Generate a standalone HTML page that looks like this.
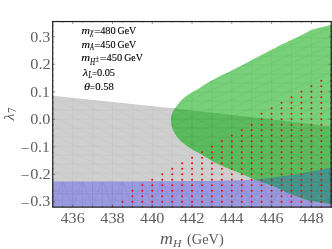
<!DOCTYPE html>
<html><head><meta charset="utf-8"><style>
html,body{margin:0;padding:0;background:#fff;}
svg{display:block;will-change:transform;font-family:"Liberation Serif",serif;}
.tl text{fill:#606060;}
.ann text{font-size:10.2px;fill:#000;stroke:#000;stroke-width:0.1px;}
.ax text{fill:#595959;}
</style></head><body>
<svg width="332" height="249" viewBox="0 0 332 249">
<defs><clipPath id="gc"><path d="M332.0,24.5 L331.2,24.7 L311.2,30.0 L310.2,30.5 L309.3,31.0 L308.4,31.5 L307.5,32.0 L306.6,32.6 L305.5,33.1 L304.2,33.8 L302.8,34.5 L301.1,35.3 L299.3,36.2 L297.2,37.2 L295.1,38.2 L292.9,39.2 L290.6,40.3 L288.4,41.3 L286.2,42.4 L284.0,43.5 L281.7,44.6 L279.3,45.8 L277.0,47.0 L274.6,48.2 L272.4,49.3 L270.2,50.4 L268.1,51.5 L266.2,52.5 L264.5,53.4 L262.8,54.2 L261.2,55.0 L259.6,55.9 L257.9,56.7 L256.2,57.7 L254.2,58.7 L252.0,59.8 L249.7,61.1 L247.2,62.4 L244.7,63.7 L242.2,65.1 L239.7,66.4 L237.3,67.6 L235.0,68.8 L232.8,69.9 L230.7,70.9 L228.6,71.9 L226.6,72.9 L224.6,73.9 L222.7,74.8 L220.9,75.7 L219.1,76.6 L217.4,77.5 L215.7,78.4 L214.1,79.2 L212.6,80.0 L211.1,80.8 L209.7,81.6 L208.3,82.4 L207.0,83.2 L205.7,84.0 L204.4,84.8 L203.1,85.6 L201.9,86.4 L200.8,87.2 L199.8,87.9 L198.8,88.5 L198.0,89.0 L197.3,89.4 L196.9,89.7 L196.5,89.9 L196.2,90.0 L195.9,90.2 L195.7,90.3 L195.3,90.5 L194.9,90.7 L194.4,91.0 L193.8,91.3 L193.2,91.6 L192.6,91.9 L192.0,92.3 L191.3,92.7 L190.7,93.0 L190.1,93.4 L189.5,93.8 L188.9,94.2 L188.3,94.6 L187.7,95.0 L187.1,95.4 L186.5,95.9 L185.9,96.3 L185.3,96.8 L184.7,97.3 L184.1,97.8 L183.5,98.3 L182.9,98.8 L182.3,99.3 L181.7,99.9 L181.1,100.5 L180.5,101.1 L179.9,101.8 L179.2,102.6 L178.6,103.4 L177.9,104.3 L177.3,105.1 L176.7,105.9 L176.1,106.7 L175.6,107.4 L175.2,108.0 L174.8,108.6 L174.5,109.1 L174.2,109.6 L173.9,110.0 L173.7,110.5 L173.4,110.9 L173.2,111.4 L173.0,111.9 L172.7,112.4 L172.5,112.9 L172.3,113.4 L172.2,113.8 L172.0,114.3 L171.8,114.8 L171.7,115.3 L171.6,115.8 L171.4,116.3 L171.3,116.8 L171.2,117.3 L171.2,117.7 L171.1,118.2 L171.0,118.7 L171.0,119.2 L171.0,119.7 L171.0,120.2 L171.0,120.6 L171.1,121.1 L171.1,121.6 L171.2,122.1 L171.2,122.5 L171.3,123.0 L171.3,123.4 L171.4,123.8 L171.4,124.2 L171.4,124.5 L171.5,124.9 L171.6,125.4 L171.7,125.9 L171.9,126.5 L172.2,127.2 L172.4,128.0 L172.8,128.9 L173.1,129.9 L173.6,130.9 L174.0,131.8 L174.5,132.8 L175.0,133.7 L175.6,134.6 L176.2,135.5 L176.8,136.4 L177.5,137.2 L178.2,138.1 L178.9,139.0 L179.7,139.8 L180.5,140.6 L181.3,141.4 L182.2,142.2 L183.1,142.9 L184.0,143.6 L184.9,144.4 L185.9,145.1 L186.8,145.7 L187.7,146.4 L188.6,147.0 L189.5,147.7 L190.5,148.3 L191.4,148.8 L192.4,149.4 L193.2,149.9 L194.1,150.4 L194.9,150.9 L195.5,151.3 L196.0,151.5 L196.4,151.7 L196.8,151.9 L197.2,152.1 L197.9,152.4 L198.8,152.9 L200.0,153.6 L201.6,154.6 L203.6,155.7 L205.8,157.1 L208.2,158.5 L210.7,160.0 L213.3,161.4 L215.7,162.8 L218.1,164.0 L220.4,165.1 L222.6,166.1 L224.9,167.0 L227.2,168.0 L229.4,168.9 L231.7,169.8 L233.9,170.7 L236.2,171.6 L238.5,172.6 L240.7,173.6 L243.0,174.6 L245.2,175.6 L247.5,176.6 L249.7,177.6 L252.0,178.5 L254.2,179.4 L256.4,180.2 L258.7,181.0 L260.9,181.8 L263.1,182.5 L265.3,183.3 L267.5,184.0 L269.8,184.8 L272.0,185.7 L274.2,186.6 L276.5,187.6 L278.8,188.7 L281.0,189.7 L283.3,190.8 L285.6,191.9 L287.8,192.9 L290.1,193.8 L292.4,194.7 L294.6,195.6 L296.9,196.5 L299.2,197.3 L301.4,198.1 L303.7,198.9 L305.9,199.6 L308.2,200.2 L310.5,200.8 L313.0,201.3 L315.5,201.7 L318.0,202.1 L320.3,202.5 L322.6,202.8 L324.5,203.1 L326.2,203.4 L327.5,203.6 L328.5,203.8 L329.3,203.9 L329.9,204.0 L330.4,204.1 L330.8,204.1 L331.4,204.2 L332.0,204.3 Z"/></clipPath>
<clipPath id="grc"><path d="M52.7,95.8 L62.3,96.7 L71.9,97.7 L81.5,98.7 L91.1,99.7 L100.7,100.7 L110.3,101.7 L119.9,102.7 L129.5,103.7 L139.1,104.7 L148.8,105.7 L158.4,106.8 L168.0,107.8 L177.6,108.8 L187.2,109.9 L196.8,111.0 L206.4,112.0 L216.0,113.1 L225.6,114.2 L235.2,115.3 L244.8,116.4 L254.4,117.5 L264.0,118.6 L273.6,119.7 L283.2,120.8 L292.8,122.0 L302.4,123.1 L312.0,124.3 L321.6,125.4 L331.2,126.6 L331.2,207.15 L52.7,207.15 Z"/></clipPath>
<clipPath id="bc"><path d="M52.7,181.6 L57.4,181.6 L62.1,181.6 L66.9,181.6 L71.6,181.6 L76.3,181.6 L81.0,181.6 L85.7,181.6 L90.5,181.5 L95.2,181.5 L99.9,181.5 L104.6,181.5 L109.4,181.5 L114.1,181.5 L118.8,181.5 L123.5,181.5 L128.2,181.5 L133.0,181.4 L137.7,181.4 L142.4,181.4 L147.1,181.3 L151.8,181.3 L156.6,181.3 L161.3,181.3 L166.0,181.2 L170.7,181.2 L175.5,181.2 L180.2,181.2 L184.9,181.1 L189.6,181.1 L194.3,181.1 L199.1,181.1 L203.8,181.0 L208.5,181.0 L213.2,180.9 L217.9,180.8 L222.7,180.6 L227.4,180.5 L232.1,180.4 L236.8,180.3 L241.5,180.2 L246.3,180.0 L251.0,179.8 L255.7,179.4 L260.4,179.0 L265.2,178.5 L269.9,177.9 L274.6,177.3 L279.3,176.7 L284.0,176.1 L288.8,175.6 L293.5,174.7 L298.2,173.9 L302.9,173.0 L307.6,172.1 L312.4,171.2 L317.1,170.3 L321.8,169.5 L326.5,168.6 L331.2,167.7 L331.2,207.15 L52.7,207.15 Z"/></clipPath>
<clipPath id="fr"><rect x="52.7" y="21.55" width="279.35" height="185.6"/></clipPath></defs>
<rect width="332" height="249" fill="#fff"/>
<g clip-path="url(#fr)">
<path d="M52.7,95.8 L62.3,96.7 L71.9,97.7 L81.5,98.7 L91.1,99.7 L100.7,100.7 L110.3,101.7 L119.9,102.7 L129.5,103.7 L139.1,104.7 L148.8,105.7 L158.4,106.8 L168.0,107.8 L177.6,108.8 L187.2,109.9 L196.8,111.0 L206.4,112.0 L216.0,113.1 L225.6,114.2 L235.2,115.3 L244.8,116.4 L254.4,117.5 L264.0,118.6 L273.6,119.7 L283.2,120.8 L292.8,122.0 L302.4,123.1 L312.0,124.3 L321.6,125.4 L331.2,126.6 L331.2,207.15 L52.7,207.15 Z" fill="#cfcfcf"/>
<path d="M52.7,181.6 L57.4,181.6 L62.1,181.6 L66.9,181.6 L71.6,181.6 L76.3,181.6 L81.0,181.6 L85.7,181.6 L90.5,181.5 L95.2,181.5 L99.9,181.5 L104.6,181.5 L109.4,181.5 L114.1,181.5 L118.8,181.5 L123.5,181.5 L128.2,181.5 L133.0,181.4 L137.7,181.4 L142.4,181.4 L147.1,181.3 L151.8,181.3 L156.6,181.3 L161.3,181.3 L166.0,181.2 L170.7,181.2 L175.5,181.2 L180.2,181.2 L184.9,181.1 L189.6,181.1 L194.3,181.1 L199.1,181.1 L203.8,181.0 L208.5,181.0 L213.2,180.9 L217.9,180.8 L222.7,180.6 L227.4,180.5 L232.1,180.4 L236.8,180.3 L241.5,180.2 L246.3,180.0 L251.0,179.8 L255.7,179.4 L260.4,179.0 L265.2,178.5 L269.9,177.9 L274.6,177.3 L279.3,176.7 L284.0,176.1 L288.8,175.6 L293.5,174.7 L298.2,173.9 L302.9,173.0 L307.6,172.1 L312.4,171.2 L317.1,170.3 L321.8,169.5 L326.5,168.6 L331.2,167.7 L331.2,207.15 L52.7,207.15 Z" fill="#9a9ade"/>
<path d="M332.0,24.5 L331.2,24.7 L311.2,30.0 L310.2,30.5 L309.3,31.0 L308.4,31.5 L307.5,32.0 L306.6,32.6 L305.5,33.1 L304.2,33.8 L302.8,34.5 L301.1,35.3 L299.3,36.2 L297.2,37.2 L295.1,38.2 L292.9,39.2 L290.6,40.3 L288.4,41.3 L286.2,42.4 L284.0,43.5 L281.7,44.6 L279.3,45.8 L277.0,47.0 L274.6,48.2 L272.4,49.3 L270.2,50.4 L268.1,51.5 L266.2,52.5 L264.5,53.4 L262.8,54.2 L261.2,55.0 L259.6,55.9 L257.9,56.7 L256.2,57.7 L254.2,58.7 L252.0,59.8 L249.7,61.1 L247.2,62.4 L244.7,63.7 L242.2,65.1 L239.7,66.4 L237.3,67.6 L235.0,68.8 L232.8,69.9 L230.7,70.9 L228.6,71.9 L226.6,72.9 L224.6,73.9 L222.7,74.8 L220.9,75.7 L219.1,76.6 L217.4,77.5 L215.7,78.4 L214.1,79.2 L212.6,80.0 L211.1,80.8 L209.7,81.6 L208.3,82.4 L207.0,83.2 L205.7,84.0 L204.4,84.8 L203.1,85.6 L201.9,86.4 L200.8,87.2 L199.8,87.9 L198.8,88.5 L198.0,89.0 L197.3,89.4 L196.9,89.7 L196.5,89.9 L196.2,90.0 L195.9,90.2 L195.7,90.3 L195.3,90.5 L194.9,90.7 L194.4,91.0 L193.8,91.3 L193.2,91.6 L192.6,91.9 L192.0,92.3 L191.3,92.7 L190.7,93.0 L190.1,93.4 L189.5,93.8 L188.9,94.2 L188.3,94.6 L187.7,95.0 L187.1,95.4 L186.5,95.9 L185.9,96.3 L185.3,96.8 L184.7,97.3 L184.1,97.8 L183.5,98.3 L182.9,98.8 L182.3,99.3 L181.7,99.9 L181.1,100.5 L180.5,101.1 L179.9,101.8 L179.2,102.6 L178.6,103.4 L177.9,104.3 L177.3,105.1 L176.7,105.9 L176.1,106.7 L175.6,107.4 L175.2,108.0 L174.8,108.6 L174.5,109.1 L174.2,109.6 L173.9,110.0 L173.7,110.5 L173.4,110.9 L173.2,111.4 L173.0,111.9 L172.7,112.4 L172.5,112.9 L172.3,113.4 L172.2,113.8 L172.0,114.3 L171.8,114.8 L171.7,115.3 L171.6,115.8 L171.4,116.3 L171.3,116.8 L171.2,117.3 L171.2,117.7 L171.1,118.2 L171.0,118.7 L171.0,119.2 L171.0,119.7 L171.0,120.2 L171.0,120.6 L171.1,121.1 L171.1,121.6 L171.2,122.1 L171.2,122.5 L171.3,123.0 L171.3,123.4 L171.4,123.8 L171.4,124.2 L171.4,124.5 L171.5,124.9 L171.6,125.4 L171.7,125.9 L171.9,126.5 L172.2,127.2 L172.4,128.0 L172.8,128.9 L173.1,129.9 L173.6,130.9 L174.0,131.8 L174.5,132.8 L175.0,133.7 L175.6,134.6 L176.2,135.5 L176.8,136.4 L177.5,137.2 L178.2,138.1 L178.9,139.0 L179.7,139.8 L180.5,140.6 L181.3,141.4 L182.2,142.2 L183.1,142.9 L184.0,143.6 L184.9,144.4 L185.9,145.1 L186.8,145.7 L187.7,146.4 L188.6,147.0 L189.5,147.7 L190.5,148.3 L191.4,148.8 L192.4,149.4 L193.2,149.9 L194.1,150.4 L194.9,150.9 L195.5,151.3 L196.0,151.5 L196.4,151.7 L196.8,151.9 L197.2,152.1 L197.9,152.4 L198.8,152.9 L200.0,153.6 L201.6,154.6 L203.6,155.7 L205.8,157.1 L208.2,158.5 L210.7,160.0 L213.3,161.4 L215.7,162.8 L218.1,164.0 L220.4,165.1 L222.6,166.1 L224.9,167.0 L227.2,168.0 L229.4,168.9 L231.7,169.8 L233.9,170.7 L236.2,171.6 L238.5,172.6 L240.7,173.6 L243.0,174.6 L245.2,175.6 L247.5,176.6 L249.7,177.6 L252.0,178.5 L254.2,179.4 L256.4,180.2 L258.7,181.0 L260.9,181.8 L263.1,182.5 L265.3,183.3 L267.5,184.0 L269.8,184.8 L272.0,185.7 L274.2,186.6 L276.5,187.6 L278.8,188.7 L281.0,189.7 L283.3,190.8 L285.6,191.9 L287.8,192.9 L290.1,193.8 L292.4,194.7 L294.6,195.6 L296.9,196.5 L299.2,197.3 L301.4,198.1 L303.7,198.9 L305.9,199.6 L308.2,200.2 L310.5,200.8 L313.0,201.3 L315.5,201.7 L318.0,202.1 L320.3,202.5 L322.6,202.8 L324.5,203.1 L326.2,203.4 L327.5,203.6 L328.5,203.8 L329.3,203.9 L329.9,204.0 L330.4,204.1 L330.8,204.1 L331.4,204.2 L332.0,204.3 Z" fill="#78d07a"/>
<g clip-path="url(#gc)">
<path d="M52.7,95.8 L62.3,96.7 L71.9,97.7 L81.5,98.7 L91.1,99.7 L100.7,100.7 L110.3,101.7 L119.9,102.7 L129.5,103.7 L139.1,104.7 L148.8,105.7 L158.4,106.8 L168.0,107.8 L177.6,108.8 L187.2,109.9 L196.8,111.0 L206.4,112.0 L216.0,113.1 L225.6,114.2 L235.2,115.3 L244.8,116.4 L254.4,117.5 L264.0,118.6 L273.6,119.7 L283.2,120.8 L292.8,122.0 L302.4,123.1 L312.0,124.3 L321.6,125.4 L331.2,126.6 L331.2,207.15 L52.7,207.15 Z" fill="#5cbb5e"/>
<path d="M52.7,181.6 L57.4,181.6 L62.1,181.6 L66.9,181.6 L71.6,181.6 L76.3,181.6 L81.0,181.6 L85.7,181.6 L90.5,181.5 L95.2,181.5 L99.9,181.5 L104.6,181.5 L109.4,181.5 L114.1,181.5 L118.8,181.5 L123.5,181.5 L128.2,181.5 L133.0,181.4 L137.7,181.4 L142.4,181.4 L147.1,181.3 L151.8,181.3 L156.6,181.3 L161.3,181.3 L166.0,181.2 L170.7,181.2 L175.5,181.2 L180.2,181.2 L184.9,181.1 L189.6,181.1 L194.3,181.1 L199.1,181.1 L203.8,181.0 L208.5,181.0 L213.2,180.9 L217.9,180.8 L222.7,180.6 L227.4,180.5 L232.1,180.4 L236.8,180.3 L241.5,180.2 L246.3,180.0 L251.0,179.8 L255.7,179.4 L260.4,179.0 L265.2,178.5 L269.9,177.9 L274.6,177.3 L279.3,176.7 L284.0,176.1 L288.8,175.6 L293.5,174.7 L298.2,173.9 L302.9,173.0 L307.6,172.1 L312.4,171.2 L317.1,170.3 L321.8,169.5 L326.5,168.6 L331.2,167.7 L331.2,207.15 L52.7,207.15 Z" fill="#47968e"/>
</g>
<g clip-path="url(#grc)" stroke="#000" stroke-opacity="0.035" stroke-width="0.8" fill="none"><path d="M52.9,21.55 V207.15 M72.7,21.55 V207.15 M92.6,21.55 V207.15 M112.5,21.55 V207.15 M132.4,21.55 V207.15 M152.3,21.55 V207.15 M172.2,21.55 V207.15 M192.0,21.55 V207.15 M211.9,21.55 V207.15 M231.8,21.55 V207.15 M251.7,21.55 V207.15 M271.6,21.55 V207.15 M291.5,21.55 V207.15 M311.4,21.55 V207.15 M331.2,21.55 V207.15 M52.7,20.1 H331.25 M52.7,29.1 H331.25 M52.7,38.1 H331.25 M52.7,47.1 H331.25 M52.7,56.1 H331.25 M52.7,65.1 H331.25 M52.7,74.1 H331.25 M52.7,83.1 H331.25 M52.7,92.1 H331.25 M52.7,101.1 H331.25 M52.7,110.1 H331.25 M52.7,119.1 H331.25 M52.7,128.1 H331.25 M52.7,137.1 H331.25 M52.7,146.1 H331.25 M52.7,155.1 H331.25 M52.7,164.1 H331.25 M52.7,173.1 H331.25 M52.7,182.1 H331.25 M52.7,191.1 H331.25 M52.7,200.1 H331.25 M52.7,209.1 H331.25"/><path d="M52.7,-80.9 L331.25,45.1 M52.7,-71.9 L331.25,54.1 M52.7,-62.9 L331.25,63.1 M52.7,-53.9 L331.25,72.1 M52.7,-44.9 L331.25,81.1 M52.7,-35.9 L331.25,90.1 M52.7,-26.9 L331.25,99.1 M52.7,-17.9 L331.25,108.1 M52.7,-8.9 L331.25,117.1 M52.7,0.1 L331.25,126.1 M52.7,9.1 L331.25,135.1 M52.7,18.1 L331.25,144.1 M52.7,27.1 L331.25,153.1 M52.7,36.1 L331.25,162.1 M52.7,45.1 L331.25,171.1 M52.7,54.1 L331.25,180.1 M52.7,63.1 L331.25,189.1 M52.7,72.1 L331.25,198.1 M52.7,81.1 L331.25,207.1 M52.7,90.1 L331.25,216.1 M52.7,99.1 L331.25,225.1 M52.7,108.1 L331.25,234.1 M52.7,117.1 L331.25,243.1 M52.7,126.1 L331.25,252.1 M52.7,135.1 L331.25,261.1 M52.7,144.1 L331.25,270.1 M52.7,153.1 L331.25,279.1 M52.7,162.1 L331.25,288.1 M52.7,171.1 L331.25,297.1 M52.7,180.1 L331.25,306.1 M52.7,189.1 L331.25,315.1 M52.7,198.1 L331.25,324.1 M52.7,207.1 L331.25,333.1 M52.7,216.1 L331.25,342.1 M52.7,225.1 L331.25,351.1 M52.7,234.1 L331.25,360.1 M52.7,243.1 L331.25,369.1 M52.7,252.1 L331.25,378.1 M52.7,261.1 L331.25,387.1 M52.7,270.1 L331.25,396.1 M52.7,279.1 L331.25,405.1 M52.7,288.1 L331.25,414.1 M52.7,297.1 L331.25,423.1 M52.7,306.1 L331.25,432.1 M52.7,315.1 L331.25,441.1 M52.7,324.1 L331.25,450.1 M52.7,333.1 L331.25,459.1 M52.7,342.1 L331.25,468.1 M52.7,351.1 L331.25,477.1 M52.7,360.1 L331.25,486.1 M52.7,369.1 L331.25,495.1 M52.7,378.1 L331.25,504.1"/></g>
<g clip-path="url(#bc)" stroke="#3030e8" stroke-opacity="0.10" stroke-width="0.8" fill="none"><path d="M52.7,207.15 L62.6,180 M52.7,165 V207.15 M62.6,180 L72.6,207.15 M62.6,165 V207.15 M72.6,207.15 L82.5,180 M72.6,165 V207.15 M82.5,180 L92.5,207.15 M82.5,165 V207.15 M92.5,207.15 L102.4,180 M92.5,165 V207.15 M102.4,180 L112.3,207.15 M102.4,165 V207.15 M112.3,207.15 L122.3,180 M112.3,165 V207.15 M122.3,180 L132.2,207.15 M122.3,165 V207.15 M132.2,207.15 L142.2,180 M132.2,165 V207.15 M142.2,180 L152.1,207.15 M142.2,165 V207.15 M152.1,207.15 L162.0,180 M152.1,165 V207.15 M162.0,180 L172.0,207.15 M162.0,165 V207.15 M172.0,207.15 L181.9,180 M172.0,165 V207.15 M181.9,180 L191.9,207.15 M181.9,165 V207.15 M191.9,207.15 L201.8,180 M191.9,165 V207.15 M201.8,180 L211.7,207.15 M201.8,165 V207.15 M211.7,207.15 L221.7,180 M211.7,165 V207.15 M221.7,180 L231.6,207.15 M221.7,165 V207.15 M231.6,207.15 L241.6,180 M231.6,165 V207.15 M241.6,180 L251.5,207.15 M241.6,165 V207.15 M251.5,207.15 L261.4,180 M251.5,165 V207.15 M261.4,180 L271.4,207.15 M261.4,165 V207.15 M271.4,207.15 L281.3,180 M271.4,165 V207.15 M281.3,180 L291.3,207.15 M281.3,165 V207.15 M291.3,207.15 L301.2,180 M291.3,165 V207.15 M301.2,180 L311.1,207.15 M301.2,165 V207.15 M311.1,207.15 L321.1,180 M311.1,165 V207.15 M321.1,180 L331.0,207.15 M321.1,165 V207.15 M331.0,207.15 L341.0,180 M331.0,165 V207.15 M52.7,194 H331.25"/></g>
<g clip-path="url(#gc)" stroke="#0a7a0a" stroke-opacity="0.08" stroke-width="0.8" fill="none"><path d="M52.9,21.55 V207.15 M72.7,21.55 V207.15 M92.6,21.55 V207.15 M112.5,21.55 V207.15 M132.4,21.55 V207.15 M152.3,21.55 V207.15 M172.2,21.55 V207.15 M192.0,21.55 V207.15 M211.9,21.55 V207.15 M231.8,21.55 V207.15 M251.7,21.55 V207.15 M271.6,21.55 V207.15 M291.5,21.55 V207.15 M311.4,21.55 V207.15 M331.2,21.55 V207.15 M52.7,20.1 H331.25 M52.7,29.1 H331.25 M52.7,38.1 H331.25 M52.7,47.1 H331.25 M52.7,56.1 H331.25 M52.7,65.1 H331.25 M52.7,74.1 H331.25 M52.7,83.1 H331.25 M52.7,92.1 H331.25 M52.7,101.1 H331.25 M52.7,110.1 H331.25 M52.7,119.1 H331.25 M52.7,128.1 H331.25 M52.7,137.1 H331.25 M52.7,146.1 H331.25 M52.7,155.1 H331.25 M52.7,164.1 H331.25 M52.7,173.1 H331.25 M52.7,182.1 H331.25 M52.7,191.1 H331.25 M52.7,200.1 H331.25 M52.7,209.1 H331.25"/><path d="M52.7,-80.9 L331.25,-206.9 M52.7,-71.9 L331.25,-197.9 M52.7,-62.9 L331.25,-188.9 M52.7,-53.9 L331.25,-179.9 M52.7,-44.9 L331.25,-170.9 M52.7,-35.9 L331.25,-161.9 M52.7,-26.9 L331.25,-152.9 M52.7,-17.9 L331.25,-143.9 M52.7,-8.9 L331.25,-134.9 M52.7,0.1 L331.25,-125.9 M52.7,9.1 L331.25,-116.9 M52.7,18.1 L331.25,-107.9 M52.7,27.1 L331.25,-98.9 M52.7,36.1 L331.25,-89.9 M52.7,45.1 L331.25,-80.9 M52.7,54.1 L331.25,-71.9 M52.7,63.1 L331.25,-62.9 M52.7,72.1 L331.25,-53.9 M52.7,81.1 L331.25,-44.9 M52.7,90.1 L331.25,-35.9 M52.7,99.1 L331.25,-26.9 M52.7,108.1 L331.25,-17.9 M52.7,117.1 L331.25,-8.9 M52.7,126.1 L331.25,0.1 M52.7,135.1 L331.25,9.1 M52.7,144.1 L331.25,18.1 M52.7,153.1 L331.25,27.1 M52.7,162.1 L331.25,36.1 M52.7,171.1 L331.25,45.1 M52.7,180.1 L331.25,54.1 M52.7,189.1 L331.25,63.1 M52.7,198.1 L331.25,72.1 M52.7,207.1 L331.25,81.1 M52.7,216.1 L331.25,90.1 M52.7,225.1 L331.25,99.1 M52.7,234.1 L331.25,108.1 M52.7,243.1 L331.25,117.1 M52.7,252.1 L331.25,126.1 M52.7,261.1 L331.25,135.1 M52.7,270.1 L331.25,144.1 M52.7,279.1 L331.25,153.1 M52.7,288.1 L331.25,162.1 M52.7,297.1 L331.25,171.1 M52.7,306.1 L331.25,180.1 M52.7,315.1 L331.25,189.1 M52.7,324.1 L331.25,198.1 M52.7,333.1 L331.25,207.1 M52.7,342.1 L331.25,216.1 M52.7,351.1 L331.25,225.1 M52.7,360.1 L331.25,234.1 M52.7,369.1 L331.25,243.1 M52.7,378.1 L331.25,252.1"/></g>
<g fill="#f80808"><circle cx="112.51" cy="207.34" r="1.0"/><circle cx="122.45" cy="207.34" r="1.0"/><circle cx="132.39" cy="207.34" r="1.0"/><circle cx="142.34" cy="207.34" r="1.0"/><circle cx="152.28" cy="207.34" r="1.0"/><circle cx="162.22" cy="207.34" r="1.0"/><circle cx="172.16" cy="207.34" r="1.0"/><circle cx="182.11" cy="207.34" r="1.0"/><circle cx="192.05" cy="207.34" r="1.0"/><circle cx="201.99" cy="207.34" r="1.0"/><circle cx="211.94" cy="207.34" r="1.0"/><circle cx="221.88" cy="207.34" r="1.0"/><circle cx="231.82" cy="207.34" r="1.0"/><circle cx="241.76" cy="207.34" r="1.0"/><circle cx="251.71" cy="207.34" r="1.0"/><circle cx="261.65" cy="207.34" r="1.0"/><circle cx="271.59" cy="207.34" r="1.0"/><circle cx="281.54" cy="207.34" r="1.0"/><circle cx="291.48" cy="207.34" r="1.0"/><circle cx="301.42" cy="207.34" r="1.0"/><circle cx="311.36" cy="207.34" r="1.0"/><circle cx="321.31" cy="207.34" r="1.0"/><circle cx="331.25" cy="207.34" r="1.0"/><circle cx="122.45" cy="201.84" r="1.0"/><circle cx="132.39" cy="201.84" r="1.0"/><circle cx="132.39" cy="196.34" r="1.0"/><circle cx="132.39" cy="190.83" r="1.0"/><circle cx="142.34" cy="201.84" r="1.0"/><circle cx="142.34" cy="196.34" r="1.0"/><circle cx="142.34" cy="190.83" r="1.0"/><circle cx="142.34" cy="185.33" r="1.0"/><circle cx="152.28" cy="201.84" r="1.0"/><circle cx="152.28" cy="196.34" r="1.0"/><circle cx="152.28" cy="190.83" r="1.0"/><circle cx="152.28" cy="185.33" r="1.0"/><circle cx="152.28" cy="179.82" r="1.0"/><circle cx="162.22" cy="201.84" r="1.0"/><circle cx="162.22" cy="196.34" r="1.0"/><circle cx="162.22" cy="190.83" r="1.0"/><circle cx="162.22" cy="185.33" r="1.0"/><circle cx="162.22" cy="179.82" r="1.0"/><circle cx="162.22" cy="174.32" r="1.0"/><circle cx="172.16" cy="201.84" r="1.0"/><circle cx="172.16" cy="196.34" r="1.0"/><circle cx="172.16" cy="190.83" r="1.0"/><circle cx="172.16" cy="185.33" r="1.0"/><circle cx="172.16" cy="179.82" r="1.0"/><circle cx="172.16" cy="174.32" r="1.0"/><circle cx="172.16" cy="168.82" r="1.0"/><circle cx="182.11" cy="201.84" r="1.0"/><circle cx="182.11" cy="196.34" r="1.0"/><circle cx="182.11" cy="190.83" r="1.0"/><circle cx="182.11" cy="185.33" r="1.0"/><circle cx="182.11" cy="179.82" r="1.0"/><circle cx="182.11" cy="174.32" r="1.0"/><circle cx="182.11" cy="168.82" r="1.0"/><circle cx="182.11" cy="163.31" r="1.0"/><circle cx="192.05" cy="201.84" r="1.0"/><circle cx="192.05" cy="196.34" r="1.0"/><circle cx="192.05" cy="190.83" r="1.0"/><circle cx="192.05" cy="185.33" r="1.0"/><circle cx="192.05" cy="179.82" r="1.0"/><circle cx="192.05" cy="174.32" r="1.0"/><circle cx="192.05" cy="168.82" r="1.0"/><circle cx="192.05" cy="163.31" r="1.0"/><circle cx="192.05" cy="157.81" r="1.0"/><circle cx="201.99" cy="201.84" r="1.0"/><circle cx="201.99" cy="196.34" r="1.0"/><circle cx="201.99" cy="190.83" r="1.0"/><circle cx="201.99" cy="185.33" r="1.0"/><circle cx="201.99" cy="179.82" r="1.0"/><circle cx="201.99" cy="174.32" r="1.0"/><circle cx="201.99" cy="168.82" r="1.0"/><circle cx="201.99" cy="163.31" r="1.0"/><circle cx="201.99" cy="157.81" r="1.0"/><circle cx="201.99" cy="152.30" r="1.0"/><circle cx="211.94" cy="201.84" r="1.0"/><circle cx="211.94" cy="196.34" r="1.0"/><circle cx="211.94" cy="190.83" r="1.0"/><circle cx="211.94" cy="185.33" r="1.0"/><circle cx="211.94" cy="179.82" r="1.0"/><circle cx="211.94" cy="174.32" r="1.0"/><circle cx="211.94" cy="168.82" r="1.0"/><circle cx="211.94" cy="163.31" r="1.0"/><circle cx="211.94" cy="157.81" r="1.0"/><circle cx="211.94" cy="152.30" r="1.0"/><circle cx="211.94" cy="146.80" r="1.0"/><circle cx="221.88" cy="201.84" r="1.0"/><circle cx="221.88" cy="196.34" r="1.0"/><circle cx="221.88" cy="190.83" r="1.0"/><circle cx="221.88" cy="185.33" r="1.0"/><circle cx="221.88" cy="179.82" r="1.0"/><circle cx="221.88" cy="174.32" r="1.0"/><circle cx="221.88" cy="168.82" r="1.0"/><circle cx="221.88" cy="163.31" r="1.0"/><circle cx="221.88" cy="157.81" r="1.0"/><circle cx="221.88" cy="152.30" r="1.0"/><circle cx="221.88" cy="146.80" r="1.0"/><circle cx="221.88" cy="141.30" r="1.0"/><circle cx="231.82" cy="201.84" r="1.0"/><circle cx="231.82" cy="196.34" r="1.0"/><circle cx="231.82" cy="190.83" r="1.0"/><circle cx="231.82" cy="185.33" r="1.0"/><circle cx="231.82" cy="179.82" r="1.0"/><circle cx="231.82" cy="174.32" r="1.0"/><circle cx="231.82" cy="168.82" r="1.0"/><circle cx="231.82" cy="163.31" r="1.0"/><circle cx="231.82" cy="157.81" r="1.0"/><circle cx="231.82" cy="152.30" r="1.0"/><circle cx="231.82" cy="146.80" r="1.0"/><circle cx="231.82" cy="141.30" r="1.0"/><circle cx="231.82" cy="135.79" r="1.0"/><circle cx="241.76" cy="201.84" r="1.0"/><circle cx="241.76" cy="196.34" r="1.0"/><circle cx="241.76" cy="190.83" r="1.0"/><circle cx="241.76" cy="185.33" r="1.0"/><circle cx="241.76" cy="179.82" r="1.0"/><circle cx="241.76" cy="174.32" r="1.0"/><circle cx="241.76" cy="168.82" r="1.0"/><circle cx="241.76" cy="163.31" r="1.0"/><circle cx="241.76" cy="157.81" r="1.0"/><circle cx="241.76" cy="152.30" r="1.0"/><circle cx="241.76" cy="146.80" r="1.0"/><circle cx="241.76" cy="141.30" r="1.0"/><circle cx="241.76" cy="135.79" r="1.0"/><circle cx="241.76" cy="130.29" r="1.0"/><circle cx="251.71" cy="201.84" r="1.0"/><circle cx="251.71" cy="196.34" r="1.0"/><circle cx="251.71" cy="190.83" r="1.0"/><circle cx="251.71" cy="185.33" r="1.0"/><circle cx="251.71" cy="179.82" r="1.0"/><circle cx="251.71" cy="174.32" r="1.0"/><circle cx="251.71" cy="168.82" r="1.0"/><circle cx="251.71" cy="163.31" r="1.0"/><circle cx="251.71" cy="157.81" r="1.0"/><circle cx="251.71" cy="152.30" r="1.0"/><circle cx="251.71" cy="146.80" r="1.0"/><circle cx="251.71" cy="141.30" r="1.0"/><circle cx="251.71" cy="135.79" r="1.0"/><circle cx="251.71" cy="130.29" r="1.0"/><circle cx="251.71" cy="124.78" r="1.0"/><circle cx="261.65" cy="201.84" r="1.0"/><circle cx="261.65" cy="196.34" r="1.0"/><circle cx="261.65" cy="190.83" r="1.0"/><circle cx="261.65" cy="185.33" r="1.0"/><circle cx="261.65" cy="179.82" r="1.0"/><circle cx="261.65" cy="174.32" r="1.0"/><circle cx="261.65" cy="168.82" r="1.0"/><circle cx="261.65" cy="163.31" r="1.0"/><circle cx="261.65" cy="157.81" r="1.0"/><circle cx="261.65" cy="152.30" r="1.0"/><circle cx="261.65" cy="146.80" r="1.0"/><circle cx="261.65" cy="141.30" r="1.0"/><circle cx="261.65" cy="135.79" r="1.0"/><circle cx="261.65" cy="130.29" r="1.0"/><circle cx="261.65" cy="124.78" r="1.0"/><circle cx="261.65" cy="119.28" r="1.0"/><circle cx="261.65" cy="113.78" r="1.0"/><circle cx="271.59" cy="201.84" r="1.0"/><circle cx="271.59" cy="196.34" r="1.0"/><circle cx="271.59" cy="190.83" r="1.0"/><circle cx="271.59" cy="185.33" r="1.0"/><circle cx="271.59" cy="179.82" r="1.0"/><circle cx="271.59" cy="174.32" r="1.0"/><circle cx="271.59" cy="168.82" r="1.0"/><circle cx="271.59" cy="163.31" r="1.0"/><circle cx="271.59" cy="157.81" r="1.0"/><circle cx="271.59" cy="152.30" r="1.0"/><circle cx="271.59" cy="146.80" r="1.0"/><circle cx="271.59" cy="141.30" r="1.0"/><circle cx="271.59" cy="135.79" r="1.0"/><circle cx="271.59" cy="130.29" r="1.0"/><circle cx="271.59" cy="124.78" r="1.0"/><circle cx="271.59" cy="119.28" r="1.0"/><circle cx="271.59" cy="113.78" r="1.0"/><circle cx="271.59" cy="108.27" r="1.0"/><circle cx="281.54" cy="201.84" r="1.0"/><circle cx="281.54" cy="196.34" r="1.0"/><circle cx="281.54" cy="190.83" r="1.0"/><circle cx="281.54" cy="185.33" r="1.0"/><circle cx="281.54" cy="179.82" r="1.0"/><circle cx="281.54" cy="174.32" r="1.0"/><circle cx="281.54" cy="168.82" r="1.0"/><circle cx="281.54" cy="163.31" r="1.0"/><circle cx="281.54" cy="157.81" r="1.0"/><circle cx="281.54" cy="152.30" r="1.0"/><circle cx="281.54" cy="146.80" r="1.0"/><circle cx="281.54" cy="141.30" r="1.0"/><circle cx="281.54" cy="135.79" r="1.0"/><circle cx="281.54" cy="130.29" r="1.0"/><circle cx="281.54" cy="124.78" r="1.0"/><circle cx="281.54" cy="119.28" r="1.0"/><circle cx="281.54" cy="113.78" r="1.0"/><circle cx="281.54" cy="108.27" r="1.0"/><circle cx="281.54" cy="102.77" r="1.0"/><circle cx="291.48" cy="201.84" r="1.0"/><circle cx="291.48" cy="196.34" r="1.0"/><circle cx="291.48" cy="190.83" r="1.0"/><circle cx="291.48" cy="185.33" r="1.0"/><circle cx="291.48" cy="179.82" r="1.0"/><circle cx="291.48" cy="174.32" r="1.0"/><circle cx="291.48" cy="168.82" r="1.0"/><circle cx="291.48" cy="163.31" r="1.0"/><circle cx="291.48" cy="157.81" r="1.0"/><circle cx="291.48" cy="152.30" r="1.0"/><circle cx="291.48" cy="146.80" r="1.0"/><circle cx="291.48" cy="141.30" r="1.0"/><circle cx="291.48" cy="135.79" r="1.0"/><circle cx="291.48" cy="130.29" r="1.0"/><circle cx="291.48" cy="124.78" r="1.0"/><circle cx="291.48" cy="119.28" r="1.0"/><circle cx="291.48" cy="113.78" r="1.0"/><circle cx="291.48" cy="108.27" r="1.0"/><circle cx="291.48" cy="102.77" r="1.0"/><circle cx="291.48" cy="97.26" r="1.0"/><circle cx="301.42" cy="201.84" r="1.0"/><circle cx="301.42" cy="196.34" r="1.0"/><circle cx="301.42" cy="190.83" r="1.0"/><circle cx="301.42" cy="185.33" r="1.0"/><circle cx="301.42" cy="179.82" r="1.0"/><circle cx="301.42" cy="174.32" r="1.0"/><circle cx="301.42" cy="168.82" r="1.0"/><circle cx="301.42" cy="163.31" r="1.0"/><circle cx="301.42" cy="157.81" r="1.0"/><circle cx="301.42" cy="152.30" r="1.0"/><circle cx="301.42" cy="146.80" r="1.0"/><circle cx="301.42" cy="141.30" r="1.0"/><circle cx="301.42" cy="135.79" r="1.0"/><circle cx="301.42" cy="130.29" r="1.0"/><circle cx="301.42" cy="124.78" r="1.0"/><circle cx="301.42" cy="119.28" r="1.0"/><circle cx="301.42" cy="113.78" r="1.0"/><circle cx="301.42" cy="108.27" r="1.0"/><circle cx="301.42" cy="102.77" r="1.0"/><circle cx="301.42" cy="97.26" r="1.0"/><circle cx="301.42" cy="91.76" r="1.0"/><circle cx="311.36" cy="201.84" r="1.0"/><circle cx="311.36" cy="196.34" r="1.0"/><circle cx="311.36" cy="190.83" r="1.0"/><circle cx="311.36" cy="185.33" r="1.0"/><circle cx="311.36" cy="179.82" r="1.0"/><circle cx="311.36" cy="174.32" r="1.0"/><circle cx="311.36" cy="168.82" r="1.0"/><circle cx="311.36" cy="163.31" r="1.0"/><circle cx="311.36" cy="157.81" r="1.0"/><circle cx="311.36" cy="152.30" r="1.0"/><circle cx="311.36" cy="146.80" r="1.0"/><circle cx="311.36" cy="141.30" r="1.0"/><circle cx="311.36" cy="135.79" r="1.0"/><circle cx="311.36" cy="130.29" r="1.0"/><circle cx="311.36" cy="124.78" r="1.0"/><circle cx="311.36" cy="119.28" r="1.0"/><circle cx="311.36" cy="113.78" r="1.0"/><circle cx="311.36" cy="108.27" r="1.0"/><circle cx="311.36" cy="102.77" r="1.0"/><circle cx="311.36" cy="97.26" r="1.0"/><circle cx="311.36" cy="91.76" r="1.0"/><circle cx="311.36" cy="86.26" r="1.0"/><circle cx="321.31" cy="201.84" r="1.0"/><circle cx="321.31" cy="196.34" r="1.0"/><circle cx="321.31" cy="190.83" r="1.0"/><circle cx="321.31" cy="185.33" r="1.0"/><circle cx="321.31" cy="179.82" r="1.0"/><circle cx="321.31" cy="174.32" r="1.0"/><circle cx="321.31" cy="168.82" r="1.0"/><circle cx="321.31" cy="163.31" r="1.0"/><circle cx="321.31" cy="157.81" r="1.0"/><circle cx="321.31" cy="152.30" r="1.0"/><circle cx="321.31" cy="146.80" r="1.0"/><circle cx="321.31" cy="141.30" r="1.0"/><circle cx="321.31" cy="135.79" r="1.0"/><circle cx="321.31" cy="130.29" r="1.0"/><circle cx="321.31" cy="124.78" r="1.0"/><circle cx="321.31" cy="119.28" r="1.0"/><circle cx="321.31" cy="113.78" r="1.0"/><circle cx="321.31" cy="108.27" r="1.0"/><circle cx="321.31" cy="102.77" r="1.0"/><circle cx="321.31" cy="97.26" r="1.0"/><circle cx="321.31" cy="91.76" r="1.0"/><circle cx="321.31" cy="86.26" r="1.0"/><circle cx="321.31" cy="80.75" r="1.0"/><circle cx="331.25" cy="201.84" r="1.0"/><circle cx="331.25" cy="196.34" r="1.0"/><circle cx="331.25" cy="190.83" r="1.0"/><circle cx="331.25" cy="185.33" r="1.0"/><circle cx="331.25" cy="179.82" r="1.0"/><circle cx="331.25" cy="174.32" r="1.0"/><circle cx="331.25" cy="168.82" r="1.0"/><circle cx="331.25" cy="163.31" r="1.0"/><circle cx="331.25" cy="157.81" r="1.0"/><circle cx="331.25" cy="152.30" r="1.0"/><circle cx="331.25" cy="146.80" r="1.0"/><circle cx="331.25" cy="141.30" r="1.0"/><circle cx="331.25" cy="135.79" r="1.0"/><circle cx="331.25" cy="130.29" r="1.0"/><circle cx="331.25" cy="124.78" r="1.0"/><circle cx="331.25" cy="119.28" r="1.0"/><circle cx="331.25" cy="113.78" r="1.0"/><circle cx="331.25" cy="108.27" r="1.0"/><circle cx="331.25" cy="102.77" r="1.0"/><circle cx="331.25" cy="97.26" r="1.0"/><circle cx="331.25" cy="91.76" r="1.0"/><circle cx="331.25" cy="86.26" r="1.0"/><circle cx="331.25" cy="80.75" r="1.0"/><circle cx="331.25" cy="75.25" r="1.0"/></g>
</g>
<g stroke="#444" stroke-width="0.6"><line x1="52.85" y1="207.15" x2="52.85" y2="205.95000000000002"/><line x1="52.85" y1="21.55" x2="52.85" y2="22.75"/><line x1="62.79" y1="207.15" x2="62.79" y2="205.95000000000002"/><line x1="62.79" y1="21.55" x2="62.79" y2="22.75"/><line x1="72.74" y1="207.15" x2="72.74" y2="204.75"/><line x1="72.74" y1="21.55" x2="72.74" y2="23.95"/><line x1="82.68" y1="207.15" x2="82.68" y2="205.95000000000002"/><line x1="82.68" y1="21.55" x2="82.68" y2="22.75"/><line x1="92.62" y1="207.15" x2="92.62" y2="205.95000000000002"/><line x1="92.62" y1="21.55" x2="92.62" y2="22.75"/><line x1="102.56" y1="207.15" x2="102.56" y2="205.95000000000002"/><line x1="102.56" y1="21.55" x2="102.56" y2="22.75"/><line x1="112.51" y1="207.15" x2="112.51" y2="204.75"/><line x1="112.51" y1="21.55" x2="112.51" y2="23.95"/><line x1="122.45" y1="207.15" x2="122.45" y2="205.95000000000002"/><line x1="122.45" y1="21.55" x2="122.45" y2="22.75"/><line x1="132.39" y1="207.15" x2="132.39" y2="205.95000000000002"/><line x1="132.39" y1="21.55" x2="132.39" y2="22.75"/><line x1="142.34" y1="207.15" x2="142.34" y2="205.95000000000002"/><line x1="142.34" y1="21.55" x2="142.34" y2="22.75"/><line x1="152.28" y1="207.15" x2="152.28" y2="204.75"/><line x1="152.28" y1="21.55" x2="152.28" y2="23.95"/><line x1="162.22" y1="207.15" x2="162.22" y2="205.95000000000002"/><line x1="162.22" y1="21.55" x2="162.22" y2="22.75"/><line x1="172.16" y1="207.15" x2="172.16" y2="205.95000000000002"/><line x1="172.16" y1="21.55" x2="172.16" y2="22.75"/><line x1="182.11" y1="207.15" x2="182.11" y2="205.95000000000002"/><line x1="182.11" y1="21.55" x2="182.11" y2="22.75"/><line x1="192.05" y1="207.15" x2="192.05" y2="204.75"/><line x1="192.05" y1="21.55" x2="192.05" y2="23.95"/><line x1="201.99" y1="207.15" x2="201.99" y2="205.95000000000002"/><line x1="201.99" y1="21.55" x2="201.99" y2="22.75"/><line x1="211.94" y1="207.15" x2="211.94" y2="205.95000000000002"/><line x1="211.94" y1="21.55" x2="211.94" y2="22.75"/><line x1="221.88" y1="207.15" x2="221.88" y2="205.95000000000002"/><line x1="221.88" y1="21.55" x2="221.88" y2="22.75"/><line x1="231.82" y1="207.15" x2="231.82" y2="204.75"/><line x1="231.82" y1="21.55" x2="231.82" y2="23.95"/><line x1="241.76" y1="207.15" x2="241.76" y2="205.95000000000002"/><line x1="241.76" y1="21.55" x2="241.76" y2="22.75"/><line x1="251.71" y1="207.15" x2="251.71" y2="205.95000000000002"/><line x1="251.71" y1="21.55" x2="251.71" y2="22.75"/><line x1="261.65" y1="207.15" x2="261.65" y2="205.95000000000002"/><line x1="261.65" y1="21.55" x2="261.65" y2="22.75"/><line x1="271.59" y1="207.15" x2="271.59" y2="204.75"/><line x1="271.59" y1="21.55" x2="271.59" y2="23.95"/><line x1="281.54" y1="207.15" x2="281.54" y2="205.95000000000002"/><line x1="281.54" y1="21.55" x2="281.54" y2="22.75"/><line x1="291.48" y1="207.15" x2="291.48" y2="205.95000000000002"/><line x1="291.48" y1="21.55" x2="291.48" y2="22.75"/><line x1="301.42" y1="207.15" x2="301.42" y2="205.95000000000002"/><line x1="301.42" y1="21.55" x2="301.42" y2="22.75"/><line x1="311.36" y1="207.15" x2="311.36" y2="204.75"/><line x1="311.36" y1="21.55" x2="311.36" y2="23.95"/><line x1="321.31" y1="207.15" x2="321.31" y2="205.95000000000002"/><line x1="321.31" y1="21.55" x2="321.31" y2="22.75"/><line x1="331.25" y1="207.15" x2="331.25" y2="205.95000000000002"/><line x1="331.25" y1="21.55" x2="331.25" y2="22.75"/><line x1="52.7" y1="201.84" x2="55.1" y2="201.84"/><line x1="331.25" y1="201.84" x2="328.85" y2="201.84"/><line x1="52.7" y1="196.34" x2="53.900000000000006" y2="196.34"/><line x1="331.25" y1="196.34" x2="330.05" y2="196.34"/><line x1="52.7" y1="190.83" x2="53.900000000000006" y2="190.83"/><line x1="331.25" y1="190.83" x2="330.05" y2="190.83"/><line x1="52.7" y1="185.33" x2="53.900000000000006" y2="185.33"/><line x1="331.25" y1="185.33" x2="330.05" y2="185.33"/><line x1="52.7" y1="179.82" x2="53.900000000000006" y2="179.82"/><line x1="331.25" y1="179.82" x2="330.05" y2="179.82"/><line x1="52.7" y1="174.32" x2="55.1" y2="174.32"/><line x1="331.25" y1="174.32" x2="328.85" y2="174.32"/><line x1="52.7" y1="168.82" x2="53.900000000000006" y2="168.82"/><line x1="331.25" y1="168.82" x2="330.05" y2="168.82"/><line x1="52.7" y1="163.31" x2="53.900000000000006" y2="163.31"/><line x1="331.25" y1="163.31" x2="330.05" y2="163.31"/><line x1="52.7" y1="157.81" x2="53.900000000000006" y2="157.81"/><line x1="331.25" y1="157.81" x2="330.05" y2="157.81"/><line x1="52.7" y1="152.30" x2="53.900000000000006" y2="152.30"/><line x1="331.25" y1="152.30" x2="330.05" y2="152.30"/><line x1="52.7" y1="146.80" x2="55.1" y2="146.80"/><line x1="331.25" y1="146.80" x2="328.85" y2="146.80"/><line x1="52.7" y1="141.30" x2="53.900000000000006" y2="141.30"/><line x1="331.25" y1="141.30" x2="330.05" y2="141.30"/><line x1="52.7" y1="135.79" x2="53.900000000000006" y2="135.79"/><line x1="331.25" y1="135.79" x2="330.05" y2="135.79"/><line x1="52.7" y1="130.29" x2="53.900000000000006" y2="130.29"/><line x1="331.25" y1="130.29" x2="330.05" y2="130.29"/><line x1="52.7" y1="124.78" x2="53.900000000000006" y2="124.78"/><line x1="331.25" y1="124.78" x2="330.05" y2="124.78"/><line x1="52.7" y1="119.28" x2="55.1" y2="119.28"/><line x1="331.25" y1="119.28" x2="328.85" y2="119.28"/><line x1="52.7" y1="113.78" x2="53.900000000000006" y2="113.78"/><line x1="331.25" y1="113.78" x2="330.05" y2="113.78"/><line x1="52.7" y1="108.27" x2="53.900000000000006" y2="108.27"/><line x1="331.25" y1="108.27" x2="330.05" y2="108.27"/><line x1="52.7" y1="102.77" x2="53.900000000000006" y2="102.77"/><line x1="331.25" y1="102.77" x2="330.05" y2="102.77"/><line x1="52.7" y1="97.26" x2="53.900000000000006" y2="97.26"/><line x1="331.25" y1="97.26" x2="330.05" y2="97.26"/><line x1="52.7" y1="91.76" x2="55.1" y2="91.76"/><line x1="331.25" y1="91.76" x2="328.85" y2="91.76"/><line x1="52.7" y1="86.26" x2="53.900000000000006" y2="86.26"/><line x1="331.25" y1="86.26" x2="330.05" y2="86.26"/><line x1="52.7" y1="80.75" x2="53.900000000000006" y2="80.75"/><line x1="331.25" y1="80.75" x2="330.05" y2="80.75"/><line x1="52.7" y1="75.25" x2="53.900000000000006" y2="75.25"/><line x1="331.25" y1="75.25" x2="330.05" y2="75.25"/><line x1="52.7" y1="69.74" x2="53.900000000000006" y2="69.74"/><line x1="331.25" y1="69.74" x2="330.05" y2="69.74"/><line x1="52.7" y1="64.24" x2="55.1" y2="64.24"/><line x1="331.25" y1="64.24" x2="328.85" y2="64.24"/><line x1="52.7" y1="58.74" x2="53.900000000000006" y2="58.74"/><line x1="331.25" y1="58.74" x2="330.05" y2="58.74"/><line x1="52.7" y1="53.23" x2="53.900000000000006" y2="53.23"/><line x1="331.25" y1="53.23" x2="330.05" y2="53.23"/><line x1="52.7" y1="47.73" x2="53.900000000000006" y2="47.73"/><line x1="331.25" y1="47.73" x2="330.05" y2="47.73"/><line x1="52.7" y1="42.22" x2="53.900000000000006" y2="42.22"/><line x1="331.25" y1="42.22" x2="330.05" y2="42.22"/><line x1="52.7" y1="36.72" x2="55.1" y2="36.72"/><line x1="331.25" y1="36.72" x2="328.85" y2="36.72"/><line x1="52.7" y1="31.22" x2="53.900000000000006" y2="31.22"/><line x1="331.25" y1="31.22" x2="330.05" y2="31.22"/><line x1="52.7" y1="25.71" x2="53.900000000000006" y2="25.71"/><line x1="331.25" y1="25.71" x2="330.05" y2="25.71"/></g>
<rect x="52.7" y="21.55" width="278.55" height="185.6" fill="none" stroke="#202020" stroke-width="1.2"/>
<g class="tl"><text x="60.55" y="223.10" font-size="14" textLength="24.22" lengthAdjust="spacingAndGlyphs">436</text><text x="100.29" y="223.10" font-size="14" textLength="24.43" lengthAdjust="spacingAndGlyphs">438</text><text x="140.08" y="223.10" font-size="14" textLength="24.33" lengthAdjust="spacingAndGlyphs">440</text><text x="179.87" y="223.10" font-size="14" textLength="24.66" lengthAdjust="spacingAndGlyphs">442</text><text x="219.66" y="223.10" font-size="14" textLength="23.91" lengthAdjust="spacingAndGlyphs">444</text><text x="259.45" y="223.10" font-size="14" textLength="24.22" lengthAdjust="spacingAndGlyphs">446</text><text x="299.19" y="223.10" font-size="14" textLength="24.43" lengthAdjust="spacingAndGlyphs">448</text><text x="30.18" y="41.67" font-size="14" textLength="20.17" lengthAdjust="spacingAndGlyphs">0.3</text><text x="30.23" y="69.13" font-size="14" textLength="20.51" lengthAdjust="spacingAndGlyphs">0.2</text><text x="30.23" y="96.59" font-size="14" textLength="19.52" lengthAdjust="spacingAndGlyphs">0.1</text><text x="30.18" y="124.05" font-size="14" textLength="20.17" lengthAdjust="spacingAndGlyphs">0.0</text><text x="30.23" y="151.51" font-size="14" textLength="19.52" lengthAdjust="spacingAndGlyphs">0.1</text><text x="20.69" y="152.61" font-size="14" textLength="9.05" lengthAdjust="spacingAndGlyphs">−</text><text x="30.23" y="178.97" font-size="14" textLength="20.51" lengthAdjust="spacingAndGlyphs">0.2</text><text x="20.69" y="180.07" font-size="14" textLength="9.05" lengthAdjust="spacingAndGlyphs">−</text><text x="30.18" y="206.43" font-size="14" textLength="20.17" lengthAdjust="spacingAndGlyphs">0.3</text><text x="20.69" y="207.53" font-size="14" textLength="9.05" lengthAdjust="spacingAndGlyphs">−</text></g>
<g class="ann"><text x="81.53" y="33.90" font-size="10.4" textLength="8.52" lengthAdjust="spacingAndGlyphs" font-style="italic">m</text><text x="90.29" y="35.30" font-size="6.5" textLength="3.18" lengthAdjust="spacingAndGlyphs" font-style="italic">χ</text><text x="94.39" y="34.80" font-size="10" textLength="6.06" lengthAdjust="spacingAndGlyphs">=</text><text x="100.16" y="33.90" font-size="10" textLength="15.62" lengthAdjust="spacingAndGlyphs">480</text><text x="117.51" y="33.90" font-size="10" textLength="18.77" lengthAdjust="spacingAndGlyphs">GeV</text><text x="81.53" y="47.70" font-size="10.4" textLength="8.52" lengthAdjust="spacingAndGlyphs" font-style="italic">m</text><text x="90.12" y="49.50" font-size="6.4" textLength="3.84" lengthAdjust="spacingAndGlyphs" font-style="italic">A</text><text x="94.39" y="48.60" font-size="10" textLength="6.06" lengthAdjust="spacingAndGlyphs">=</text><text x="100.37" y="47.70" font-size="10" textLength="15.26" lengthAdjust="spacingAndGlyphs">450</text><text x="117.51" y="47.70" font-size="10" textLength="18.77" lengthAdjust="spacingAndGlyphs">GeV</text><text x="81.15" y="61.10" font-size="10.4" textLength="8.78" lengthAdjust="spacingAndGlyphs" font-style="italic">m</text><text x="89.90" y="64.70" font-size="6.8" textLength="5.10" lengthAdjust="spacingAndGlyphs" font-style="italic">H</text><text x="95.21" y="61.60" font-size="6.0" textLength="3.83" lengthAdjust="spacingAndGlyphs">±</text><text x="99.84" y="62.00" font-size="10" textLength="6.69" lengthAdjust="spacingAndGlyphs">=</text><text x="106.50" y="61.10" font-size="10" textLength="15.64" lengthAdjust="spacingAndGlyphs">450</text><text x="124.13" y="61.10" font-size="10" textLength="18.77" lengthAdjust="spacingAndGlyphs">GeV</text><text x="82.85" y="76.10" font-size="10.6" textLength="5.36" lengthAdjust="spacingAndGlyphs" font-style="italic">λ</text><text x="88.21" y="78.00" font-size="6.6" textLength="4.07" lengthAdjust="spacingAndGlyphs" font-style="italic">L</text><text x="92.34" y="77.00" font-size="10" textLength="4.71" lengthAdjust="spacingAndGlyphs">=</text><text x="96.90" y="76.10" font-size="10" textLength="18.11" lengthAdjust="spacingAndGlyphs">0.05</text><text x="84.09" y="89.90" font-size="10.6" textLength="6.06" lengthAdjust="spacingAndGlyphs" font-style="italic">θ</text><text x="89.63" y="90.80" font-size="10" textLength="5.09" lengthAdjust="spacingAndGlyphs">=</text><text x="95.15" y="89.90" font-size="10" textLength="18.73" lengthAdjust="spacingAndGlyphs">0.58</text></g>
<g class="ax">
<g transform="translate(0,300) rotate(-90)"><text x="179.46" y="13.70" font-size="15.5" textLength="6.98" lengthAdjust="spacingAndGlyphs" font-style="italic">λ</text><text x="186.92" y="15.80" font-size="11.5" textLength="5.47" lengthAdjust="spacingAndGlyphs">7</text></g>
<text x="160.11" y="243.60" font-size="16.5" textLength="12.96" lengthAdjust="spacingAndGlyphs" font-style="italic">m</text><text x="172.98" y="247.20" font-size="10.5" textLength="8.44" lengthAdjust="spacingAndGlyphs" font-style="italic">H</text><text x="186.98" y="243.60" font-size="15.3" textLength="36.76" lengthAdjust="spacingAndGlyphs">(GeV)</text>
</g>
</svg>
</body></html>
